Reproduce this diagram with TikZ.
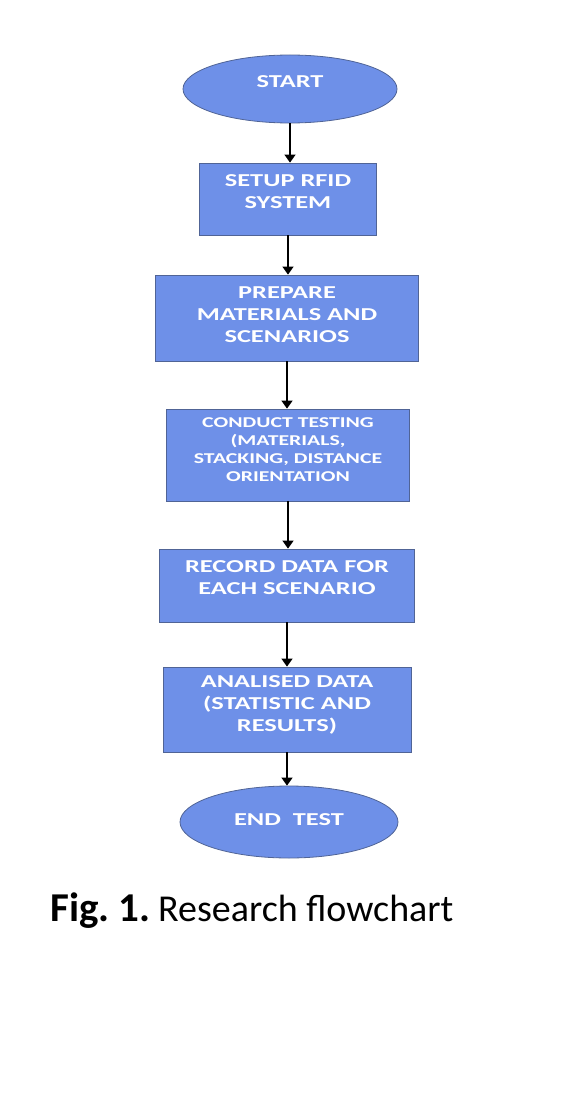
\documentclass[tikz,border=0pt]{standalone}
\usepackage{fontspec}
\setmainfont{Carlito}
\newfontfamily\boxfont[FakeStretch=1.45]{Carlito}
\usetikzlibrary{shapes.geometric,arrows.meta}
\definecolor{stepblue}{RGB}{110,144,232}
\definecolor{stepline}{RGB}{80,100,150}
\begin{document}
\begin{tikzpicture}[x=1pt,y=-1pt,
	stepbox/.style={draw=stepline,line width=0.8pt,fill=stepblue,inner sep=0pt},
	terminal/.style={stepbox,ellipse},
	steptext/.style={text=white,font=\boxfont\bfseries\fontsize{18.2}{22}\selectfont,align=center,inner sep=0pt},
	smalltext/.style={steptext,font=\boxfont\bfseries\fontsize{15}{18}\selectfont},
	flow/.style={-{Triangle[width=11pt,length=8pt]},line width=1.3pt}]
	\useasboundingbox [fill=white] (0,0) rectangle (578,1102);
	\node [terminal,minimum width=214pt,minimum height=68pt] (start) at (290,89) {};
	\node [steptext] (start-txt) at (290,82) {START};
	\node [stepbox,minimum width=177pt,minimum height=72pt] (setup) at (288,199) {};
	\node [steptext] (setup-txt) at (288,191.5) {SETUP RFID\\SYSTEM};
	\node [stepbox,minimum width=263pt,minimum height=86pt] (prepare) at (287,318) {};
	\node [steptext] (prepare-txt) at (287,314.5) {PREPARE\\MATERIALS AND\\SCENARIOS};
	\node [stepbox,minimum width=243pt,minimum height=92pt] (testing) at (288,455) {};
	\node [smalltext] (testing-txt) at (288,450) {CONDUCT TESTING\\(MATERIALS,\\STACKING, DISTANCE\\ORIENTATION};
	\node [stepbox,minimum width=255pt,minimum height=73pt] (record) at (287,585.5) {};
	\node [steptext] (record-txt) at (287,578) {RECORD DATA FOR\\EACH SCENARIO};
	\node [stepbox,minimum width=248pt,minimum height=85pt] (analyse) at (287,709.5) {};
	\node [steptext] (analyse-txt) at (287,705) {ANALISED DATA\\(STATISTIC AND\\RESULTS)};
	\node [terminal,minimum width=218pt,minimum height=72pt] (end) at (289,822) {};
	\node [steptext] (end-txt) at (289,820) {END\ \ TEST};
	\draw [flow] (start) -- (start |- setup.north);
	\draw [flow] (setup) -- (setup |- prepare.north);
	\draw [flow] (prepare) -- (prepare |- testing.north);
	\draw [flow] (testing) -- (testing |- record.north);
	\draw [flow] (record) -- (record |- analyse.north);
	\draw [flow] (analyse) -- (analyse |- end.north);
	\node [anchor=base west,inner sep=0pt,font=\fontsize{38}{46}\selectfont] (caption) at (50,921) {{\fontsize{41}{46}\selectfont\bfseries Fig.\hspace{9pt}1.}\hspace{8pt}Research flowchart};
\end{tikzpicture}
\end{document}
